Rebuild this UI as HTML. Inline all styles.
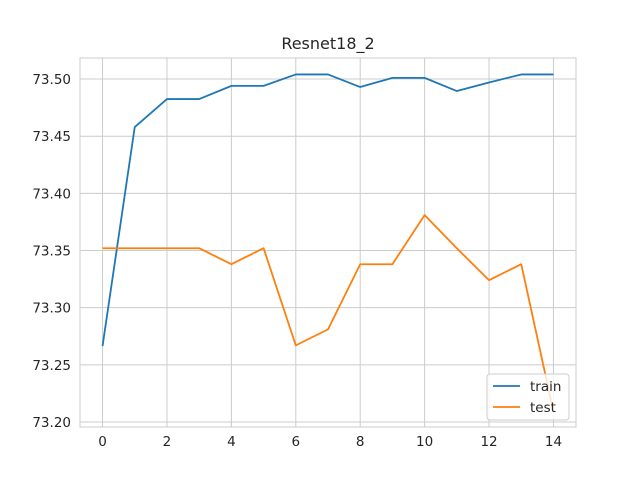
<!DOCTYPE html>
<html><head><meta charset="utf-8"><style>
body{margin:0;background:#fff;}
svg{display:block;font-family:"DejaVu Sans","Liberation Sans",sans-serif;}
</style></head><body>
<svg id="chart" width="640" height="480">
<rect width="640" height="480" fill="#fff"/>
<text x="328" y="49" text-anchor="middle" font-size="16" fill="#262626">Resnet18_2</text>
<g id="grid"></g><g id="axes"></g><g id="series"></g>
<g>
<rect x="487" y="374" width="82" height="46" rx="3" fill="#fff" fill-opacity="0.8" stroke="#ccc"/>
<line x1="493" y1="386" x2="520" y2="386" stroke="#1f77b4" stroke-width="1.8"/>
<text x="530" y="391" font-size="13.5" fill="#262626">train</text>
<line x1="493" y1="407" x2="520" y2="407" stroke="#ff7f0e" stroke-width="1.8"/>
<text x="530" y="412" font-size="13.5" fill="#262626">test</text>
</g>
</svg>
<script>
const epochs=[0,1,2,3,4,5,6,7,8,9,10,11,12,13,14];
const trainValues=[73.2665,73.458,73.4825,73.4825,73.494,73.494,73.504,73.504,73.493,73.501,73.501,73.4895,73.497,73.504,73.504];
const testValues=[73.352,73.352,73.352,73.352,73.338,73.352,73.267,73.281,73.338,73.338,73.381,73.352,73.324,73.338,73.209];
const xTicks=[0,2,4,6,8,10,12,14];
const yTicks=[73.20,73.25,73.30,73.35,73.40,73.45,73.50];
const L=80,R=576,T=58,B=427;
const xMin=-0.7,xMax=14.7,yMin=73.1956,yMax=73.5184;
const xs=v=>L+(v-xMin)/(xMax-xMin)*(R-L);
const ys=v=>B-(v-yMin)/(yMax-yMin)*(B-T);
const NS="http://www.w3.org/2000/svg";
function mk(tag,attrs,parent){const e=document.createElementNS(NS,tag);for(const k in attrs)e.setAttribute(k,attrs[k]);parent.appendChild(e);return e;}
const grid=document.getElementById('grid'),axes=document.getElementById('axes'),series=document.getElementById('series');
xTicks.forEach(t=>{
 const g=mk('line',{x1:xs(t),x2:xs(t),y1:T,y2:B,stroke:'#cccccc','stroke-width':1},grid);
 
 
 const tx=mk('text',{x:xs(t),y:B+19,'text-anchor':'middle','font-size':13.5,fill:'#262626'},axes);
 tx.textContent=t;
 
 
});
yTicks.forEach(t=>{
 const g=mk('line',{x1:L,x2:R,y1:ys(t),y2:ys(t),stroke:'#cccccc','stroke-width':1},grid);
 
 
 const tx=mk('text',{x:L-9,y:ys(t)+5,'text-anchor':'end','font-size':13.5,fill:'#262626'},axes);
 tx.textContent=t.toFixed(2);
 
 
});
const frame=mk('rect',{x:L,y:T,width:R-L,height:B-T,fill:'none',stroke:'#cccccc','stroke-width':1},axes);


function line(vals,color,name){
 const p=mk('polyline',{points:vals.map((v,i)=>xs(epochs[i])+','+ys(v)).join(' '),fill:'none',stroke:color,'stroke-width':1.8,'stroke-linejoin':'round'},series);
 
 
}
line(trainValues,'#1f77b4','train-line');
line(testValues,'#ff7f0e','test-line');
</script>
</body></html>
